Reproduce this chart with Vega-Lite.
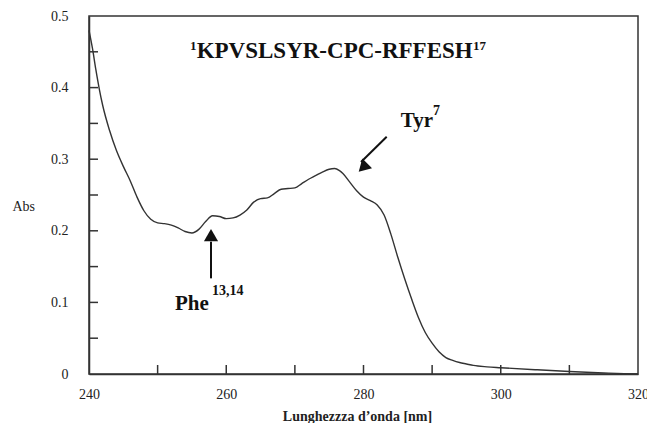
{
  "$schema": "https://vega.github.io/schema/vega-lite/v6.json",
  "width": 549,
  "height": 358,
  "autosize": {"type": "none"},
  "padding": {"left": 89, "top": 16, "right": 9, "bottom": 49},
  "background": "white",
  "config": {
    "view": {"stroke": "#333", "strokeWidth": 1.5},
    "font": "Liberation Serif"
  },
  "encoding": {
    "x": {
      "field": "nm", "type": "quantitative",
      "scale": {"domain": [240, 320], "nice": false, "zero": false},
      "axis": {
        "values": [240, 260, 280, 300, 320],
        "title": "Lunghezzza d’onda [nm]",
        "grid": false, "ticks": false, "labelPadding": 13,
        "labelOverlap": false, "labelFlush": false,
        "domainColor": "#333", "domainWidth": 1.5,
        "labelFont": "Liberation Serif", "labelFontSize": 14, "labelColor": "#222",
        "titleFont": "Liberation Serif", "titleFontSize": 14, "titleFontWeight": "bold", "titleColor": "#222",
        "titleX": 268, "titleY": 46, "titleBaseline": "alphabetic", "titleAnchor": null
      }
    },
    "y": {
      "field": "abs", "type": "quantitative",
      "scale": {"domain": [0, 0.5], "nice": false},
      "axis": {
        "values": [0, 0.1, 0.2, 0.3, 0.4, 0.5],
        "format": "~g",
        "title": "Abs",
        "grid": false, "ticks": false, "labelPadding": 21,
        "labelOverlap": false, "labelFlush": false,
        "domainColor": "#333", "domainWidth": 1.5,
        "labelFont": "Liberation Serif", "labelFontSize": 14, "labelColor": "#222",
        "titleFont": "Liberation Serif", "titleFontSize": 14, "titleFontWeight": "normal", "titleColor": "#222",
        "titleAngle": 0, "titleX": -77, "titleY": 190, "titleAlign": "left", "titleBaseline": "middle", "titleAnchor": null
      }
    }
  },
  "layer": [
    {
      "data": {"values": [
        {"nm": 250, "abs": 0}, {"nm": 260, "abs": 0}, {"nm": 270, "abs": 0}, {"nm": 280, "abs": 0},
        {"nm": 290, "abs": 0}, {"nm": 300, "abs": 0}, {"nm": 310, "abs": 0}
      ]},
      "mark": {"type": "tick", "orient": "vertical", "size": 9, "thickness": 1.5, "yOffset": -4.5, "color": "#333", "opacity": 1}
    },
    {
      "data": {"values": [
        {"nm": 240, "abs": 0.05}, {"nm": 240, "abs": 0.1}, {"nm": 240, "abs": 0.15}, {"nm": 240, "abs": 0.2},
        {"nm": 240, "abs": 0.25}, {"nm": 240, "abs": 0.3}, {"nm": 240, "abs": 0.35}, {"nm": 240, "abs": 0.4},
        {"nm": 240, "abs": 0.45}
      ]},
      "mark": {"type": "tick", "orient": "horizontal", "size": 9, "thickness": 1.5, "xOffset": 4.5, "color": "#333", "opacity": 1}
    },
    {
      "data": {"values": [
        {"nm": 240.0, "abs": 0.480}, {"nm": 240.5, "abs": 0.455}, {"nm": 241.0, "abs": 0.425},
        {"nm": 241.5, "abs": 0.398}, {"nm": 242.0, "abs": 0.375}, {"nm": 243.0, "abs": 0.340},
        {"nm": 244.0, "abs": 0.312}, {"nm": 245.0, "abs": 0.290}, {"nm": 246.0, "abs": 0.270},
        {"nm": 247.0, "abs": 0.247}, {"nm": 248.0, "abs": 0.228}, {"nm": 249.0, "abs": 0.216},
        {"nm": 250.0, "abs": 0.211}, {"nm": 251.0, "abs": 0.210}, {"nm": 252.0, "abs": 0.208},
        {"nm": 253.0, "abs": 0.204}, {"nm": 254.0, "abs": 0.199}, {"nm": 255.0, "abs": 0.197},
        {"nm": 256.0, "abs": 0.202}, {"nm": 257.0, "abs": 0.213}, {"nm": 258.0, "abs": 0.221},
        {"nm": 259.0, "abs": 0.220}, {"nm": 260.0, "abs": 0.217}, {"nm": 261.0, "abs": 0.218},
        {"nm": 262.0, "abs": 0.222}, {"nm": 263.0, "abs": 0.229}, {"nm": 264.0, "abs": 0.240},
        {"nm": 265.0, "abs": 0.245}, {"nm": 266.0, "abs": 0.246}, {"nm": 267.0, "abs": 0.252},
        {"nm": 268.0, "abs": 0.258}, {"nm": 269.0, "abs": 0.259}, {"nm": 270.0, "abs": 0.260},
        {"nm": 271.0, "abs": 0.266}, {"nm": 272.0, "abs": 0.272}, {"nm": 273.0, "abs": 0.277},
        {"nm": 274.0, "abs": 0.282}, {"nm": 275.0, "abs": 0.286}, {"nm": 275.8, "abs": 0.287},
        {"nm": 276.5, "abs": 0.284}, {"nm": 277.0, "abs": 0.280}, {"nm": 278.0, "abs": 0.268},
        {"nm": 279.0, "abs": 0.256}, {"nm": 280.0, "abs": 0.247}, {"nm": 281.0, "abs": 0.242},
        {"nm": 282.0, "abs": 0.236}, {"nm": 283.0, "abs": 0.222}, {"nm": 284.0, "abs": 0.195},
        {"nm": 285.0, "abs": 0.163}, {"nm": 286.0, "abs": 0.133}, {"nm": 287.0, "abs": 0.105},
        {"nm": 288.0, "abs": 0.079}, {"nm": 289.0, "abs": 0.058}, {"nm": 290.0, "abs": 0.043},
        {"nm": 291.0, "abs": 0.031}, {"nm": 292.0, "abs": 0.023}, {"nm": 293.0, "abs": 0.019},
        {"nm": 294.0, "abs": 0.016}, {"nm": 295.0, "abs": 0.014}, {"nm": 296.0, "abs": 0.012},
        {"nm": 298.0, "abs": 0.010}, {"nm": 300.0, "abs": 0.0088}, {"nm": 305.0, "abs": 0.006},
        {"nm": 310.0, "abs": 0.0035}, {"nm": 315.0, "abs": 0.0015}, {"nm": 318.0, "abs": 0.0005},
        {"nm": 320.0, "abs": 0.0}
      ]},
      "mark": {"type": "line", "color": "#333", "strokeWidth": 1.4, "interpolate": "monotone"}
    },
    {
      "data": {"values": [
        {"nm": 283.38, "abs": 0.3314, "nm2": 279.64, "abs2": 0.2961},
        {"nm": 257.78, "abs": 0.1336, "nm2": 257.78, "abs2": 0.1848}
      ]},
      "mark": {"type": "rule", "color": "#111", "strokeWidth": 2},
      "encoding": {"x2": {"field": "nm2"}, "y2": {"field": "abs2"}}
    },
    {
      "data": {"values": [{"nm": 279.92, "abs": 0.2884}]},
      "mark": {"type": "point", "shape": "triangle-up", "angle": 225, "size": 190, "filled": true, "color": "#111", "opacity": 1}
    },
    {
      "data": {"values": [{"nm": 257.78, "abs": 0.194}]},
      "mark": {"type": "point", "shape": "triangle-up", "angle": 0, "size": 200, "filled": true, "color": "#111", "opacity": 1}
    },
    {
      "data": {"values": [{"nm": 255.69, "abs": 0.4413, "label": "KPVSLSYR-CPC-RFFESH"}]},
      "mark": {"type": "text", "align": "left", "baseline": "alphabetic", "font": "Liberation Serif", "fontSize": 23, "fontWeight": "bold", "color": "#111"},
      "encoding": {"text": {"field": "label"}}
    },
    {
      "data": {"values": [
        {"nm": 285.42, "abs": 0.345, "label": "Tyr"},
        {"nm": 252.53, "abs": 0.0894, "label": "Phe"}
      ]},
      "mark": {"type": "text", "align": "left", "baseline": "alphabetic", "font": "Liberation Serif", "fontSize": 21, "fontWeight": "bold", "color": "#111"},
      "encoding": {"text": {"field": "label"}}
    },
    {
      "data": {"values": [
        {"nm": 254.7, "abs": 0.4525, "label": "1"},
        {"nm": 295.96, "abs": 0.4525, "label": "17"}
      ]},
      "mark": {"type": "text", "align": "left", "baseline": "alphabetic", "font": "Liberation Serif", "fontSize": 13, "fontWeight": "bold", "color": "#111"},
      "encoding": {"text": {"field": "label"}}
    },
    {
      "data": {"values": [
        {"nm": 257.92, "abs": 0.1103, "label": "13,14"},
        {"nm": 290.13, "abs": 0.3617, "label": "7"}
      ]},
      "mark": {"type": "text", "align": "left", "baseline": "alphabetic", "font": "Liberation Serif", "fontSize": 14, "fontWeight": "bold", "color": "#111"},
      "encoding": {"text": {"field": "label"}}
    }
  ]
}
